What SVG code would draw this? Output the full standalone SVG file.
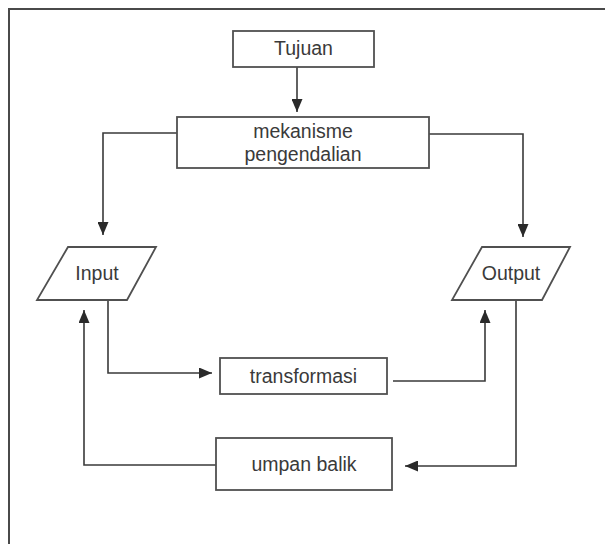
<svg xmlns="http://www.w3.org/2000/svg" width="605" height="544" viewBox="0 0 605 544">
  <defs>
    <marker id="arrow" viewBox="0 0 13 11" refX="13" refY="5.5" markerWidth="13" markerHeight="11" markerUnits="userSpaceOnUse" orient="auto">
      <path d="M0,0 L13,5.5 L0,11 z" fill="#2a2a2a"/>
    </marker>
  </defs>
  <style>
    .box { fill: #ffffff; stroke: #505050; stroke-width: 1.8; }
    .conn { fill: none; stroke: #3a3a3a; stroke-width: 1.6; marker-end: url(#arrow); }
    .label { font-family: "Liberation Sans", Arial, sans-serif; font-size: 19.5px; fill: #3a3a3a; text-anchor: middle; }
    .frame { fill: none; stroke: #4a4a4a; stroke-width: 2; }
  </style>
  <rect x="0" y="0" width="605" height="544" fill="#ffffff"/>
  <path class="frame" d="M9,544 V9 H605"/>

  <g id="connectors">
    <path class="conn" d="M297,67 V112"/>
    <path class="conn" d="M177,133 H103 V235"/>
    <path class="conn" d="M429,134 H523 V237"/>
    <path class="conn" d="M108,300 V373 H212"/>
    <path class="conn" d="M393,381 H485 V310"/>
    <path class="conn" d="M516,300 V466 H405"/>
    <path class="conn" d="M216,465 H84 V310"/>
  </g>

  <g id="tujuan">
    <rect class="box" x="233" y="31" width="141" height="36"/>
    <text class="label" x="303.5" y="55">Tujuan</text>
  </g>
  <g id="mekanisme">
    <rect class="box" x="177" y="117" width="252" height="51"/>
    <text class="label" x="303" y="138">mekanisme</text>
    <text class="label" x="303" y="161">pengendalian</text>
  </g>
  <g id="input">
    <polygon class="box" points="68,247 156,247 127,300 37,300"/>
    <text class="label" x="97" y="280">Input</text>
  </g>
  <g id="output">
    <polygon class="box" points="482,247 570,247 542,300 452,300"/>
    <text class="label" x="511" y="280">Output</text>
  </g>
  <g id="transformasi">
    <rect class="box" x="220" y="358" width="167" height="36"/>
    <text class="label" x="303.5" y="383">transformasi</text>
  </g>
  <g id="umpan-balik">
    <rect class="box" x="216" y="438" width="176" height="52"/>
    <text class="label" x="304" y="471">umpan balik</text>
  </g>
</svg>
